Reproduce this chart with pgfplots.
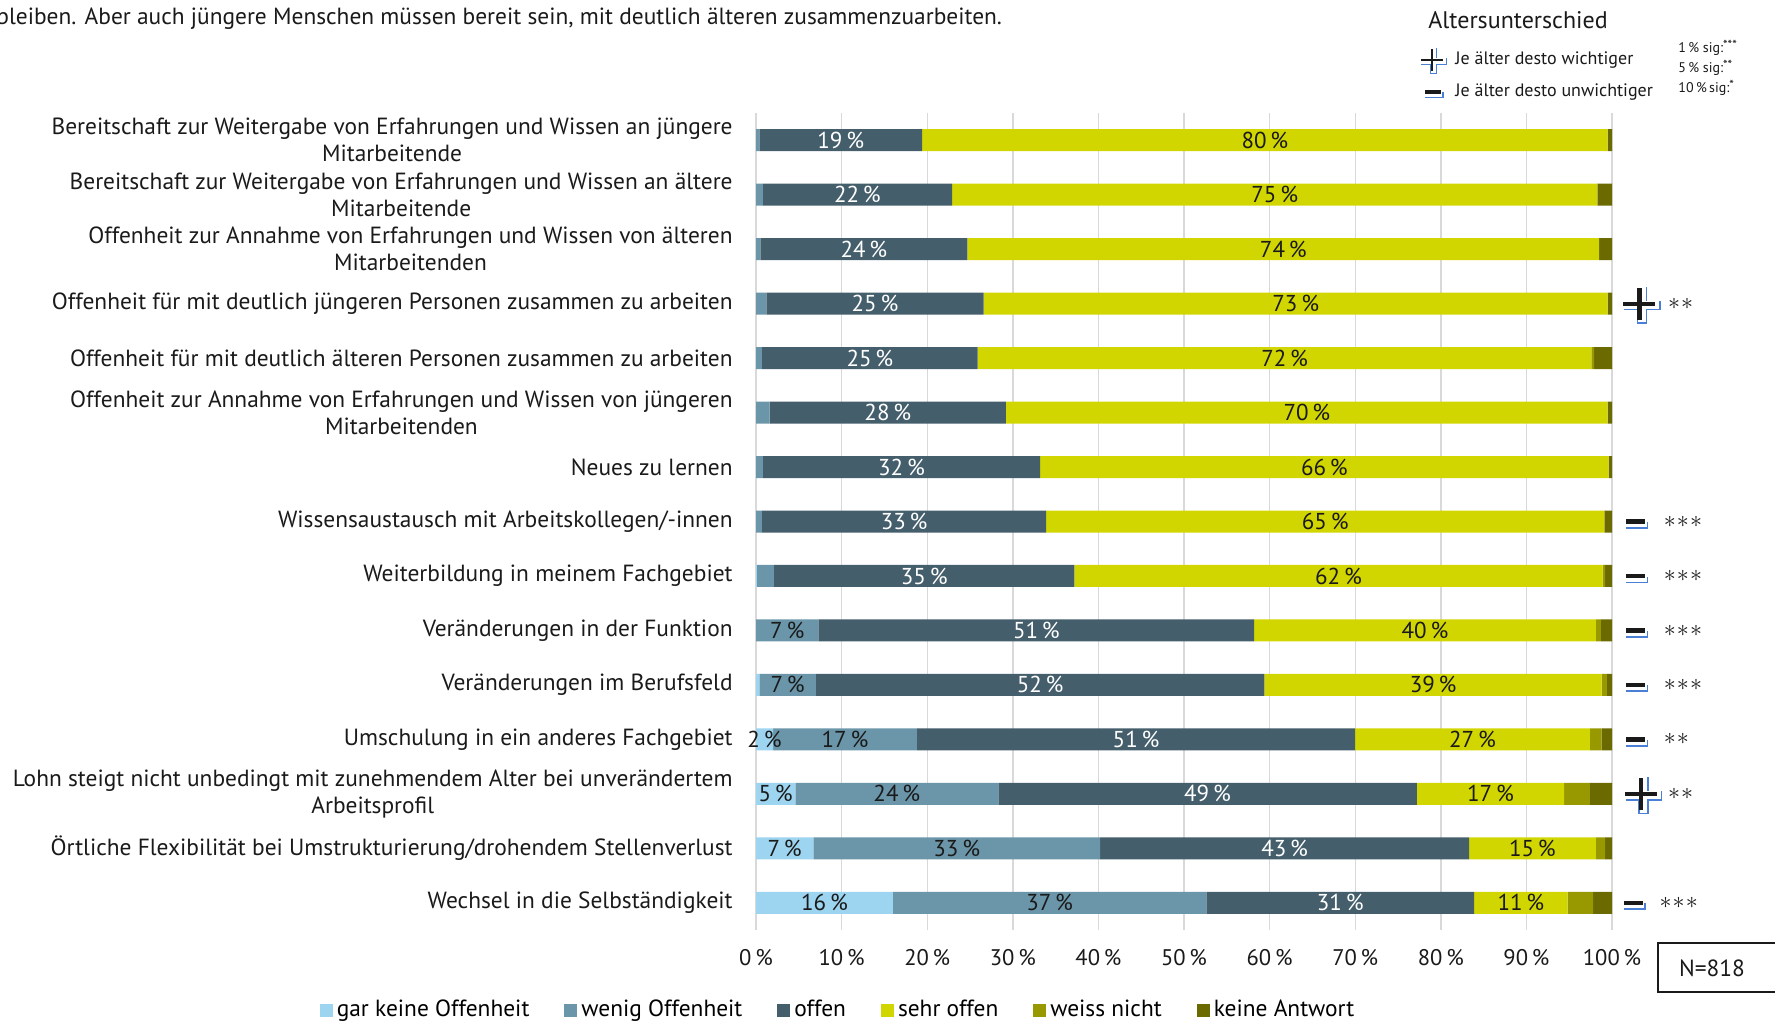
\documentclass[border=0pt]{standalone}
\usepackage{pgfplots}
\pgfplotsset{compat=1.18}
\usepackage{fontspec}
\setmainfont{PT Sans}
\definecolor{cgar}{HTML}{9DD4EF}
\definecolor{cwenig}{HTML}{6B96A9}
\definecolor{coffen}{HTML}{445E6C}
\definecolor{csehr}{HTML}{D2D600}
\definecolor{cweiss}{HTML}{989800}
\definecolor{ckeine}{HTML}{6A6A00}
\definecolor{cgrid}{HTML}{D9D9D9}
\definecolor{cblue}{HTML}{4A7FD6}
\definecolor{ctext}{HTML}{1A1A1A}
\newcommand{\plussym}[2]{%
  \begin{scope}[shift={#1}, scale=#2]
    \draw[cblue, line width=0.8pt*#2, line join=miter]
      (-7.75pt,-3pt) -- (-1pt,-3pt) -- (-1pt,-9.75pt) -- (3.5pt,-9.75pt) -- (3.5pt,-3pt) -- (10.25pt,-3pt) -- (10.25pt,1.5pt)
      (3.5pt,1.5pt) -- (3.5pt,8.25pt);
    \draw[ctext, line width=2.1pt*#2] (-8pt,0pt) -- (8pt,0pt) (0pt,-8pt) -- (0pt,8pt);
  \end{scope}}
\newcommand{\minussym}[2]{%
  \begin{scope}[shift={#1}, scale=#2]
    \draw[cblue, line width=0.85pt*#2] (-4.75pt,-3.2pt) -- (5.75pt,-3.2pt) -- (5.75pt,-0.3pt);
    \draw[ctext, line width=2.2pt*#2] (-4.75pt,0pt) -- (4.75pt,0pt);
  \end{scope}}
\newcommand{\fs}{\fontsize{11.7}{13.5}\selectfont}
\newcommand{\twoast}{${\ast}\kern0.6pt{\ast}$}
\newcommand{\threeast}{${\ast}\kern0.6pt{\ast}\kern0.6pt{\ast}$}
\begin{document}
\begin{tikzpicture}
\path[use as bounding box] (0,0) rectangle (887.5pt,511pt);
\begin{axis}[
  at={(378pt,46pt)}, anchor=south west,
  scale only axis, width=428pt, height=408.5pt,
  xbar stacked, bar width=11pt,
  xmin=0, xmax=100, ymin=0.5, ymax=15.5, y dir=reverse,
  axis line style={draw=none},
  major tick length=0pt,
  xmajorgrids, major grid style={cgrid, line width=0.7pt},
  xtick={0,10,...,100},
  xticklabels={0\,\%,10\,\%,20\,\%,30\,\%,40\,\%,50\,\%,60\,\%,70\,\%,80\,\%,90\,\%,100\,\%},
  xticklabel style={font=\fontsize{11.3}{13}\selectfont, text=ctext, yshift=-6pt},
  ytick={1,...,15},
  yticklabels={
    {Bereitschaft zur Weitergabe von Erfahrungen und Wissen an jüngere\\Mitarbeitende},
    {Bereitschaft zur Weitergabe von Erfahrungen und Wissen an ältere\\Mitarbeitende},
    {Offenheit zur Annahme von Erfahrungen und Wissen von älteren\\Mitarbeitenden},
    {Offenheit für mit deutlich jüngeren Personen zusammen zu arbeiten},
    {Offenheit für mit deutlich älteren Personen zusammen zu arbeiten},
    {Offenheit zur Annahme von Erfahrungen und Wissen von jüngeren\\Mitarbeitenden},
    {Neues zu lernen},
    {Wissensaustausch mit Arbeitskollegen/-innen},
    {Weiterbildung in meinem Fachgebiet},
    {Veränderungen in der Funktion},
    {Veränderungen im Berufsfeld},
    {Umschulung in ein anderes Fachgebiet},
    {Lohn steigt nicht unbedingt mit zunehmendem Alter bei unverändertem\\Arbeitsprofil},
    {Örtliche Flexibilität bei Umstrukturierung/drohendem Stellenverlust},
    {Wechsel in die Selbständigkeit}},
  yticklabel style={align=center, font=\fs, text=ctext, inner sep=0pt, xshift=-11.5pt},
  clip=false,
  nodes near coords={\pgfplotspointmeta},
  point meta=explicit symbolic,
  every node near coord/.append style={font=\fontsize{11.5}{13}\selectfont, inner sep=0pt},
  legend style={at={(0.097,-0.098)}, anchor=center, legend columns=6, draw=none, fill=none,
    font=\fs, /tikz/every even column/.append style={column sep=15.5pt}, inner sep=0pt},
  legend image code/.code={\fill[#1] (0pt,-3.25pt) rectangle (6.5pt,3.25pt);},
]
\addplot[fill=cgar, draw=none, every node near coord/.append style={text=ctext}] coordinates {
(0,1)[] (0,2)[] (0,3)[] (0,4)[] (0,5)[] (0,6)[] (0,7)[] (0,8)[] (0.1,9)[] (0,10)[]
(0.4,11)[] (2.0,12)[2\,\%] (4.6,13)[5\,\%] (6.7,14)[7\,\%] (16.0,15)[16\,\%]};
\addplot[fill=cwenig, draw=none, every node near coord/.append style={text=ctext}] coordinates {
(0.4,1)[] (0.8,2)[] (0.5,3)[] (1.2,4)[] (0.7,5)[] (1.6,6)[] (0.8,7)[] (0.7,8)[] (2.0,9)[] (7.3,10)[7\,\%]
(6.6,11)[7\,\%] (16.8,12)[17\,\%] (23.7,13)[24\,\%] (33.5,14)[33\,\%] (36.6,15)[37\,\%]};
\addplot[fill=coffen, draw=none, every node near coord/.append style={text=white}] coordinates {
(19.0,1)[19\,\%] (22.1,2)[22\,\%] (24.2,3)[24\,\%] (25.4,4)[25\,\%] (25.2,5)[25\,\%] (27.6,6)[28\,\%] (32.4,7)[32\,\%] (33.2,8)[33\,\%] (35.1,9)[35\,\%] (50.9,10)[51\,\%]
(52.4,11)[52\,\%] (51.2,12)[51\,\%] (48.9,13)[49\,\%] (43.1,14)[43\,\%] (31.3,15)[31\,\%]};
\addplot[fill=csehr, draw=none, every node near coord/.append style={text=ctext}] coordinates {
(80.1,1)[80\,\%] (75.4,2)[75\,\%] (73.8,3)[74\,\%] (72.9,4)[73\,\%] (71.7,5)[72\,\%] (70.3,6)[70\,\%] (66.4,7)[66\,\%] (65.2,8)[65\,\%] (61.7,9)[62\,\%] (39.9,10)[40\,\%]
(39.4,11)[39\,\%] (27.4,12)[27\,\%] (17.2,13)[17\,\%] (14.8,14)[15\,\%] (10.9,15)[11\,\%]};
\addplot[fill=cweiss, draw=none] coordinates {
(0,1)[] (0,2)[] (0,3)[] (0,4)[] (0.3,5)[] (0,6)[] (0,7)[] (0,8)[] (0.3,9)[] (0.6,10)[]
(0.6,11)[] (1.4,12)[] (3.0,13)[] (1.1,14)[] (3.0,15)[]};
\addplot[fill=ckeine, draw=none] coordinates {
(0.5,1)[] (1.7,2)[] (1.5,3)[] (0.5,4)[] (2.1,5)[] (0.5,6)[] (0.4,7)[] (0.9,8)[] (0.8,9)[] (1.3,10)[]
(0.6,11)[] (1.2,12)[] (2.6,13)[] (0.8,14)[] (2.2,15)[]};
\legend{gar keine Offenheit, wenig Offenheit, offen, sehr offen, weiss nicht, keine Antwort}
\coordinate (p4) at (axis cs:103.2,4);
\coordinate (p13) at (axis cs:103.4,13);
\coordinate (m8) at (axis cs:102.8,8);
\coordinate (m9) at (axis cs:102.8,9);
\coordinate (m10) at (axis cs:102.8,10);
\coordinate (m11) at (axis cs:102.8,11);
\coordinate (m12) at (axis cs:102.8,12);
\coordinate (m15) at (axis cs:102.5,15);
\coordinate (s4) at (axis cs:106.5,4);
\coordinate (s13) at (axis cs:106.5,13);
\coordinate (s8) at (axis cs:106.0,8);
\coordinate (s9) at (axis cs:106.0,9);
\coordinate (s10) at (axis cs:106.0,10);
\coordinate (s11) at (axis cs:106.0,11);
\coordinate (s12) at (axis cs:106.0,12);
\coordinate (s15) at (axis cs:105.5,15);
\end{axis}
\plussym{(p4)}{1}
\plussym{(p13)}{1}
\foreach \r in {8,9,10,11,12,15}{\minussym{(m\r)}{1}}
\foreach \r in {4,13,12}{\node[anchor=west, inner sep=0pt, font=\fontsize{12.5}{14}\selectfont, text=ctext] at (s\r) {\twoast};}
\foreach \r in {8,9,10,11,15}{\node[anchor=west, inner sep=0pt, font=\fontsize{12.5}{14}\selectfont, text=ctext] at (s\r) {\threeast};}
% top text
\node[anchor=west, inner sep=0pt, font=\fs, text=ctext] at (-2pt,501.5pt) {bleiben. Aber auch jüngere Menschen müssen bereit sein, mit deutlich älteren zusammenzuarbeiten.};
\node[anchor=west, inner sep=0pt, font=\fontsize{12}{14}\selectfont, text=ctext] at (714pt,501pt) {Altersunterschied};
\plussym{(716pt,481pt)}{0.7}
\minussym{(716.5pt,465pt)}{0.85}
\node[anchor=west, inner sep=0pt, font=\fontsize{9}{10}\selectfont, text=ctext] at (727.5pt,481pt) {Je älter desto wichtiger};
\node[anchor=west, inner sep=0pt, font=\fontsize{9}{10}\selectfont, text=ctext] at (727.5pt,465pt) {Je älter desto unwichtiger};
\node[anchor=west, inner sep=0pt, font=\fontsize{7}{8}\selectfont, text=ctext] at (839pt,487pt) {1\,\% sig:\raisebox{1.6pt}{\fontsize{6.5}{7}\selectfont ***}};
\node[anchor=west, inner sep=0pt, font=\fontsize{7}{8}\selectfont, text=ctext] at (839pt,477pt) {5\,\% sig:\raisebox{1.6pt}{\fontsize{6.5}{7}\selectfont **}};
\node[anchor=west, inner sep=0pt, font=\fontsize{7}{8}\selectfont, text=ctext] at (839pt,467pt) {10\,\%\,sig:\raisebox{1.6pt}{\fontsize{6.5}{7}\selectfont *}};
% N box
\draw[ctext, line width=0.75pt] (829pt,15pt) rectangle (895pt,39.5pt);
\node[font=\fontsize{11.7}{14}\selectfont, text=ctext] at (856pt,27pt) {N=818};
\end{tikzpicture}
\end{document}
